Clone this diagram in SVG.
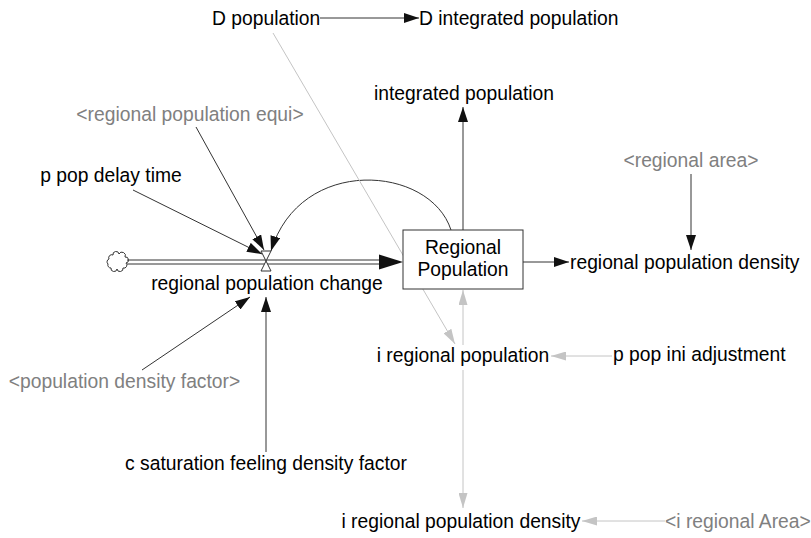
<svg xmlns="http://www.w3.org/2000/svg" width="811" height="538" viewBox="0 0 811 538">
<style>
text{font-family:"Liberation Sans",Arial,sans-serif;font-size:19.3px;fill:#000}
text.sh{fill:#808080}
.c{fill:none;stroke:#333;stroke-width:1}
.g{fill:none;stroke:#c4c4c4;stroke-width:1}
</style>
<defs>
<marker id="ab" viewBox="0 0 15 10" refX="15" refY="5" markerWidth="15" markerHeight="10" markerUnits="userSpaceOnUse" orient="auto"><path d="M0,0 L15,5 L0,10 z" fill="#111"/></marker>
<marker id="ag" viewBox="0 0 15 9" refX="15" refY="4.5" markerWidth="15" markerHeight="9" markerUnits="userSpaceOnUse" orient="auto"><path d="M0,0 L15,4.5 L0,9 z" fill="#c4c4c4"/></marker>
</defs>
<rect width="811" height="538" fill="#fff"/>
<g id="connectors">
<line class="c" x1="320" y1="18" x2="419" y2="18" marker-end="url(#ab)"/>
<line class="c" x1="463" y1="230" x2="463" y2="107" marker-end="url(#ab)"/>
<path class="c" d="M451,230 C430,165 300,155 271,251" marker-end="url(#ab)"/>
<line class="c" x1="196" y1="127" x2="264" y2="250" marker-end="url(#ab)"/>
<line class="c" x1="133" y1="190" x2="262" y2="254" marker-end="url(#ab)"/>
<line class="c" x1="142" y1="370" x2="250" y2="297" marker-end="url(#ab)"/>
<line class="c" x1="266" y1="452" x2="266" y2="297" marker-end="url(#ab)"/>
<line class="c" x1="523" y1="262" x2="569" y2="262" marker-end="url(#ab)"/>
<line class="c" x1="691" y1="174" x2="691" y2="250" marker-end="url(#ab)"/>
<line class="g" x1="612" y1="356" x2="551" y2="356" marker-end="url(#ag)"/>
<line class="g" x1="463" y1="345" x2="463" y2="290" marker-end="url(#ag)"/>
<line class="g" x1="463" y1="370" x2="463" y2="508" marker-end="url(#ag)"/>
<line class="g" x1="665" y1="521" x2="582" y2="521" marker-end="url(#ag)"/>
<line class="g" x1="273" y1="33" x2="455" y2="344" marker-end="url(#ag)"/>
</g>
<g id="flow">
<path d="M109,259 A3,3 0 0 1 113,255 A3,3 0 0 1 119,254 A3,3 0 0 1 125,257 A3,3 0 0 1 126,263 A3,3 0 0 1 123,268 A3,3 0 0 1 117,269 A3,3 0 0 1 111,268 A3,3 0 0 1 108,264 A3,3 0 0 1 109,259 Z" fill="#fff" stroke="#333" stroke-width="1"/>
<line x1="127" y1="260" x2="380" y2="260" stroke="#333" stroke-width="1"/>
<line x1="127" y1="264" x2="380" y2="264" stroke="#333" stroke-width="1"/>
<polygon points="379,254.5 403,262 379,269.5" fill="#111"/>
<path d="M261,251 L271,251 L261,271 L271,271 Z" fill="#fff" stroke="#333" stroke-width="1"/>
</g>
<g id="regional-population">
<rect x="403" y="230" width="120" height="59" fill="#fff" stroke="#333" stroke-width="1"/>
<text x="463" y="254" text-anchor="middle">Regional</text>
<text x="463" y="276" text-anchor="middle">Population</text>
</g>
<g id="regional-population-change"><text x="267" y="290" text-anchor="middle">regional population change</text></g>
<g id="d-population"><text x="212" y="25">D population</text></g>
<g id="d-integrated-population"><text x="419" y="25">D integrated population</text></g>
<g id="integrated-population"><text x="464" y="100" text-anchor="middle">integrated population</text></g>
<g id="regional-population-equi"><text class="sh" x="190" y="121" text-anchor="middle">&lt;regional population equi&gt;</text></g>
<g id="regional-area"><text class="sh" x="691" y="167" text-anchor="middle">&lt;regional area&gt;</text></g>
<g id="p-pop-delay-time"><text x="111" y="182" text-anchor="middle">p pop delay time</text></g>
<g id="regional-population-density"><text x="570" y="269">regional population density</text></g>
<g id="i-regional-population"><text x="463" y="362" text-anchor="middle">i regional population</text></g>
<g id="p-pop-ini-adjustment"><text x="613" y="361">p pop ini adjustment</text></g>
<g id="population-density-factor"><text class="sh" x="124.5" y="388" text-anchor="middle">&lt;population density factor&gt;</text></g>
<g id="c-saturation-feeling-density-factor"><text x="266" y="470" text-anchor="middle">c saturation feeling density factor</text></g>
<g id="i-regional-population-density"><text x="461" y="528" text-anchor="middle">i regional population density</text></g>
<g id="i-regional-area"><text class="sh" x="665" y="528">&lt;i regional Area&gt;</text></g>
</svg>
